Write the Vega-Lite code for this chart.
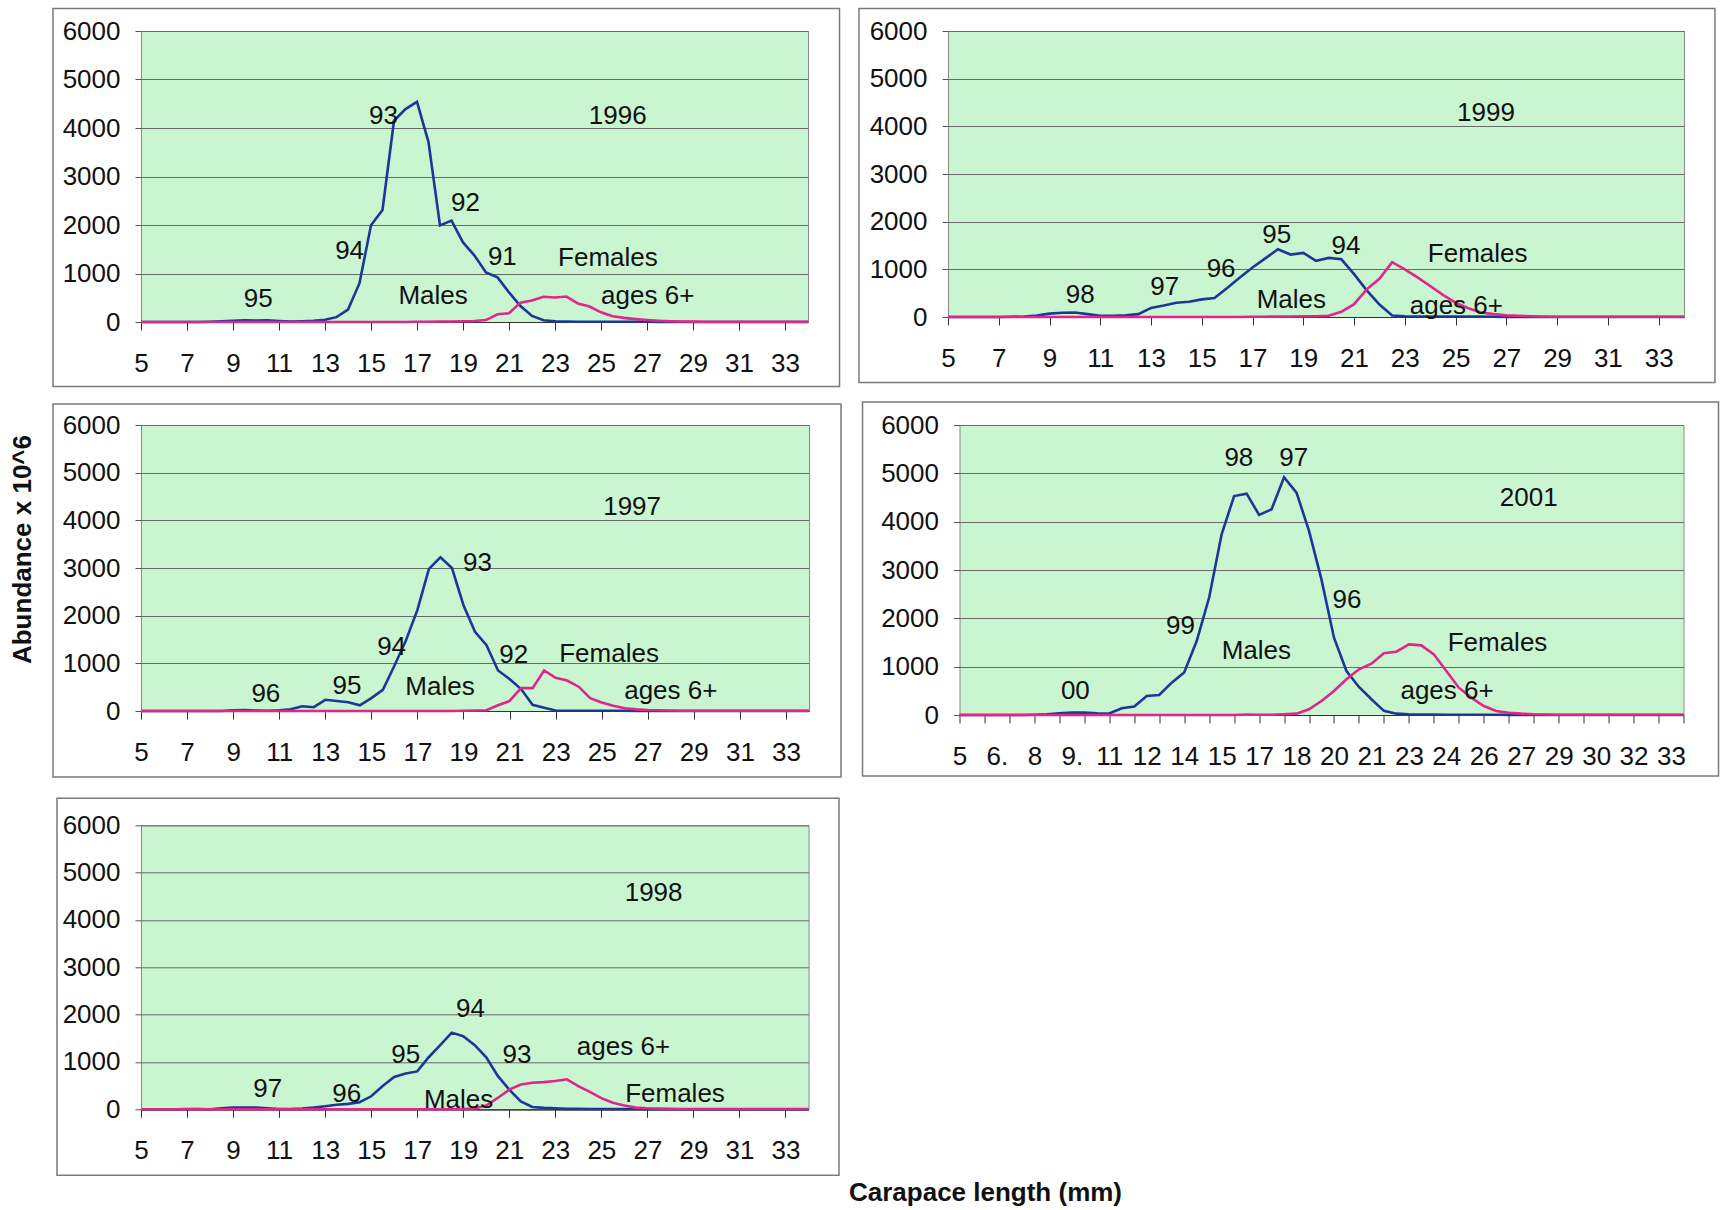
{
"$schema": "https://vega.github.io/schema/vega-lite/v6.json",
"background": "white",
"padding": {"left": 9, "top": 7, "right": 0, "bottom": 0},
"title": {"text": "Abundance x 10^6", "orient": "left", "anchor": "middle", "font": "Liberation Sans", "fontSize": 26, "fontWeight": "bold", "color": "#111", "offset": 16, "dx": 57},
"datasets": {
"y1996": [
{"len":5,"Males":0,"Females":0},{"len":5.5,"Males":0,"Females":0},{"len":6,"Males":0,"Females":0},{"len":6.5,"Males":0,"Females":0},{"len":7,"Males":0,"Females":0},{"len":7.5,"Males":0,"Females":0},{"len":8,"Males":5,"Females":0},{"len":8.5,"Males":15,"Females":0},{"len":9,"Males":25,"Females":0},{"len":9.5,"Males":35,"Females":0},{"len":10,"Males":30,"Females":0},{"len":10.5,"Males":35,"Females":0},{"len":11,"Males":20,"Females":0},{"len":11.5,"Males":10,"Females":0},{"len":12,"Males":15,"Females":0},{"len":12.5,"Males":25,"Females":0},{"len":13,"Males":45,"Females":0},{"len":13.5,"Males":100,"Females":0},{"len":14,"Males":255,"Females":0},{"len":14.5,"Males":800,"Females":0},{"len":15,"Males":1995,"Females":0},{"len":15.5,"Males":2310,"Females":0},{"len":16,"Males":4150,"Females":0},{"len":16.5,"Males":4390,"Females":0},{"len":17,"Males":4540,"Females":5},{"len":17.5,"Males":3710,"Females":5},{"len":18,"Males":1990,"Females":10},{"len":18.5,"Males":2090,"Females":10},{"len":19,"Males":1640,"Females":15},{"len":19.5,"Males":1370,"Females":20},{"len":20,"Males":1020,"Females":40},{"len":20.5,"Males":920,"Females":160},{"len":21,"Males":610,"Females":180},{"len":21.5,"Males":330,"Females":400},{"len":22,"Males":125,"Females":445},{"len":22.5,"Males":35,"Females":520},{"len":23,"Males":12,"Females":505},{"len":23.5,"Males":8,"Females":525},{"len":24,"Males":5,"Females":380},{"len":24.5,"Males":5,"Females":320},{"len":25,"Males":5,"Females":200},{"len":25.5,"Males":5,"Females":120},{"len":26,"Males":5,"Females":85},{"len":26.5,"Males":5,"Females":60},{"len":27,"Males":5,"Females":40},{"len":27.5,"Males":3,"Females":25},{"len":28,"Males":2,"Females":15},{"len":28.5,"Males":0,"Females":10},{"len":29,"Males":0,"Females":8},{"len":29.5,"Males":0,"Females":5},{"len":30,"Males":0,"Females":5},{"len":30.5,"Males":0,"Females":5},{"len":31,"Males":0,"Females":5},{"len":31.5,"Males":0,"Females":5},{"len":32,"Males":0,"Females":5},{"len":32.5,"Males":0,"Females":5},{"len":33,"Males":0,"Females":5},{"len":33.5,"Males":0,"Females":5},{"len":34,"Males":0,"Females":5}
],
"y1999": [
{"len":5,"Males":0,"Females":0},{"len":5.5,"Males":0,"Females":0},{"len":6,"Males":0,"Females":0},{"len":6.5,"Males":0,"Females":0},{"len":7,"Males":0,"Females":0},{"len":7.5,"Males":5,"Females":0},{"len":8,"Males":10,"Females":0},{"len":8.5,"Males":30,"Females":0},{"len":9,"Males":70,"Females":0},{"len":9.5,"Males":90,"Females":0},{"len":10,"Males":95,"Females":0},{"len":10.5,"Males":60,"Females":0},{"len":11,"Males":25,"Females":0},{"len":11.5,"Males":25,"Females":0},{"len":12,"Males":35,"Females":0},{"len":12.5,"Males":60,"Females":0},{"len":13,"Males":190,"Females":0},{"len":13.5,"Males":240,"Females":0},{"len":14,"Males":300,"Females":0},{"len":14.5,"Males":320,"Females":0},{"len":15,"Males":370,"Females":0},{"len":15.5,"Males":400,"Females":0},{"len":16,"Males":610,"Females":0},{"len":16.5,"Males":830,"Females":0},{"len":17,"Males":1040,"Females":5},{"len":17.5,"Males":1230,"Females":5},{"len":18,"Males":1420,"Females":10},{"len":18.5,"Males":1310,"Females":10},{"len":19,"Males":1345,"Females":15},{"len":19.5,"Males":1180,"Females":15},{"len":20,"Males":1240,"Females":25},{"len":20.5,"Males":1210,"Females":110},{"len":21,"Males":900,"Females":270},{"len":21.5,"Males":560,"Females":580},{"len":22,"Males":260,"Females":800},{"len":22.5,"Males":30,"Females":1150},{"len":23,"Males":15,"Females":1000},{"len":23.5,"Males":10,"Females":830},{"len":24,"Males":10,"Females":650},{"len":24.5,"Males":10,"Females":465},{"len":25,"Males":10,"Females":300},{"len":25.5,"Males":10,"Females":185},{"len":26,"Males":8,"Females":95},{"len":26.5,"Males":5,"Females":60},{"len":27,"Males":3,"Females":35},{"len":27.5,"Males":0,"Females":25},{"len":28,"Males":0,"Females":15},{"len":28.5,"Males":0,"Females":10},{"len":29,"Males":0,"Females":5},{"len":29.5,"Males":0,"Females":5},{"len":30,"Males":0,"Females":5},{"len":30.5,"Males":0,"Females":5},{"len":31,"Males":0,"Females":5},{"len":31.5,"Males":0,"Females":5},{"len":32,"Males":0,"Females":5},{"len":32.5,"Males":0,"Females":5},{"len":33,"Males":0,"Females":5},{"len":33.5,"Males":0,"Females":5},{"len":34,"Males":0,"Females":5}
],
"y1997": [
{"len":5,"Males":0,"Females":0},{"len":5.5,"Males":0,"Females":0},{"len":6,"Males":0,"Females":0},{"len":6.5,"Males":0,"Females":0},{"len":7,"Males":0,"Females":0},{"len":7.5,"Males":0,"Females":0},{"len":8,"Males":0,"Females":0},{"len":8.5,"Males":0,"Females":0},{"len":9,"Males":15,"Females":0},{"len":9.5,"Males":20,"Females":0},{"len":10,"Males":10,"Females":0},{"len":10.5,"Males":5,"Females":0},{"len":11,"Males":15,"Females":0},{"len":11.5,"Males":35,"Females":0},{"len":12,"Males":100,"Females":0},{"len":12.5,"Males":80,"Females":0},{"len":13,"Males":235,"Females":0},{"len":13.5,"Males":210,"Females":0},{"len":14,"Males":185,"Females":0},{"len":14.5,"Males":120,"Females":0},{"len":15,"Males":270,"Females":0},{"len":15.5,"Males":445,"Females":0},{"len":16,"Males":950,"Females":0},{"len":16.5,"Males":1480,"Females":0},{"len":17,"Males":2120,"Females":0},{"len":17.5,"Males":2980,"Females":0},{"len":18,"Males":3225,"Females":0},{"len":18.5,"Males":3000,"Females":0},{"len":19,"Males":2220,"Females":5},{"len":19.5,"Males":1660,"Females":10},{"len":20,"Males":1380,"Females":15},{"len":20.5,"Males":850,"Females":120},{"len":21,"Males":670,"Females":210},{"len":21.5,"Males":460,"Females":480},{"len":22,"Males":130,"Females":480},{"len":22.5,"Males":70,"Females":850},{"len":23,"Males":10,"Females":695},{"len":23.5,"Males":5,"Females":640},{"len":24,"Males":5,"Females":510},{"len":24.5,"Males":5,"Females":270},{"len":25,"Males":5,"Females":180},{"len":25.5,"Males":5,"Females":110},{"len":26,"Males":5,"Females":56},{"len":26.5,"Males":3,"Females":35},{"len":27,"Males":0,"Females":21},{"len":27.5,"Males":0,"Females":15},{"len":28,"Males":0,"Females":10},{"len":28.5,"Males":0,"Females":5},{"len":29,"Males":0,"Females":5},{"len":29.5,"Males":0,"Females":5},{"len":30,"Males":0,"Females":5},{"len":30.5,"Males":0,"Females":5},{"len":31,"Males":0,"Females":5},{"len":31.5,"Males":0,"Females":5},{"len":32,"Males":0,"Females":5},{"len":32.5,"Males":0,"Females":5},{"len":33,"Males":0,"Females":5},{"len":33.5,"Males":0,"Females":5},{"len":34,"Males":0,"Females":5}
],
"y2001": [
{"len":5,"Males":0,"Females":0},{"len":5.5,"Males":0,"Females":0},{"len":6,"Males":0,"Females":0},{"len":6.5,"Males":0,"Females":0},{"len":7,"Males":0,"Females":0},{"len":7.5,"Males":0,"Females":0},{"len":8,"Males":5,"Females":0},{"len":8.5,"Males":15,"Females":0},{"len":9,"Males":35,"Females":0},{"len":9.5,"Males":50,"Females":0},{"len":10,"Males":50,"Females":0},{"len":10.5,"Males":35,"Females":0},{"len":11,"Males":30,"Females":0},{"len":11.5,"Males":140,"Females":0},{"len":12,"Males":175,"Females":0},{"len":12.5,"Males":395,"Females":0},{"len":13,"Males":415,"Females":0},{"len":13.5,"Males":670,"Females":0},{"len":14,"Males":880,"Females":0},{"len":14.5,"Males":1530,"Females":0},{"len":15,"Males":2430,"Females":0},{"len":15.5,"Males":3740,"Females":0},{"len":16,"Males":4530,"Females":0},{"len":16.5,"Males":4580,"Females":10},{"len":17,"Males":4140,"Females":5},{"len":17.5,"Males":4255,"Females":5},{"len":18,"Males":4920,"Females":15},{"len":18.5,"Males":4600,"Females":28},{"len":19,"Males":3810,"Females":117},{"len":19.5,"Males":2800,"Females":290},{"len":20,"Males":1600,"Females":497},{"len":20.5,"Males":910,"Females":738},{"len":21,"Males":580,"Females":945},{"len":21.5,"Males":325,"Females":1062},{"len":22,"Males":85,"Females":1276},{"len":22.5,"Males":28,"Females":1310},{"len":23,"Males":14,"Females":1462},{"len":23.5,"Males":10,"Females":1441},{"len":24,"Males":8,"Females":1255},{"len":24.5,"Males":5,"Females":910},{"len":25,"Males":5,"Females":565},{"len":25.5,"Males":5,"Females":360},{"len":26,"Males":5,"Females":186},{"len":26.5,"Males":5,"Females":83},{"len":27,"Males":3,"Females":48},{"len":27.5,"Males":0,"Females":28},{"len":28,"Males":0,"Females":15},{"len":28.5,"Males":0,"Females":10},{"len":29,"Males":0,"Females":5},{"len":29.5,"Males":0,"Females":5},{"len":30,"Males":0,"Females":5},{"len":30.5,"Males":0,"Females":5},{"len":31,"Males":0,"Females":5},{"len":31.5,"Males":0,"Females":5},{"len":32,"Males":0,"Females":5},{"len":32.5,"Males":0,"Females":5},{"len":33,"Males":0,"Females":5},{"len":33.5,"Males":0,"Females":5},{"len":34,"Males":0,"Females":5}
],
"y1998": [
{"len":5,"Males":0,"Females":0},{"len":5.5,"Males":0,"Females":0},{"len":6,"Males":0,"Females":0},{"len":6.5,"Males":0,"Females":0},{"len":7,"Males":7,"Females":0},{"len":7.5,"Males":5,"Females":0},{"len":8,"Males":0,"Females":0},{"len":8.5,"Males":20,"Females":0},{"len":9,"Males":35,"Females":0},{"len":9.5,"Males":35,"Females":0},{"len":10,"Males":35,"Females":0},{"len":10.5,"Males":20,"Females":0},{"len":11,"Males":7,"Females":0},{"len":11.5,"Males":5,"Females":0},{"len":12,"Males":15,"Females":0},{"len":12.5,"Males":35,"Females":0},{"len":13,"Males":65,"Females":0},{"len":13.5,"Males":95,"Females":0},{"len":14,"Males":115,"Females":0},{"len":14.5,"Males":150,"Females":0},{"len":15,"Males":275,"Females":0},{"len":15.5,"Males":490,"Females":0},{"len":16,"Males":685,"Females":0},{"len":16.5,"Males":755,"Females":0},{"len":17,"Males":800,"Females":0},{"len":17.5,"Males":1100,"Females":0},{"len":18,"Males":1355,"Females":0},{"len":18.5,"Males":1620,"Females":0},{"len":19,"Males":1545,"Females":5},{"len":19.5,"Males":1355,"Females":20},{"len":20,"Males":1100,"Females":80},{"len":20.5,"Males":705,"Females":240},{"len":21,"Males":415,"Females":415},{"len":21.5,"Males":165,"Females":525},{"len":22,"Males":50,"Females":560},{"len":22.5,"Males":30,"Females":575},{"len":23,"Males":20,"Females":597},{"len":23.5,"Males":10,"Females":633},{"len":24,"Males":8,"Females":490},{"len":24.5,"Males":5,"Females":367},{"len":25,"Males":5,"Females":237},{"len":25.5,"Males":5,"Females":137},{"len":26,"Males":5,"Females":79},{"len":26.5,"Males":5,"Females":36},{"len":27,"Males":3,"Females":22},{"len":27.5,"Males":0,"Females":15},{"len":28,"Males":0,"Females":10},{"len":28.5,"Males":0,"Females":5},{"len":29,"Males":0,"Females":5},{"len":29.5,"Males":0,"Females":5},{"len":30,"Males":0,"Females":5},{"len":30.5,"Males":0,"Females":5},{"len":31,"Males":0,"Females":5},{"len":31.5,"Males":0,"Females":5},{"len":32,"Males":0,"Females":5},{"len":32.5,"Males":0,"Females":5},{"len":33,"Males":0,"Females":5},{"len":33.5,"Males":0,"Females":5},{"len":34,"Males":0,"Females":5}
],
"t1996": [{"t":"93","x":15.54,"y":4250},{"t":"1996","x":25.73,"y":4250},{"t":"92","x":19.11,"y":2450},{"t":"94","x":14.07,"y":1470},{"t":"91","x":20.71,"y":1330},{"t":"Females","x":25.3,"y":1310},{"t":"Males","x":17.7,"y":540},{"t":"ages 6+","x":27.03,"y":540},{"t":"95","x":10.1,"y":466}],
"t1999": [{"t":"95","x":17.95,"y":1711},{"t":"94","x":20.68,"y":1500},{"t":"Females","x":25.87,"y":1324},{"t":"96","x":15.76,"y":1007},{"t":"97","x":13.54,"y":620},{"t":"98","x":10.21,"y":465},{"t":"Males","x":18.53,"y":352},{"t":"ages 6+","x":25.03,"y":232},{"t":"1999","x":26.2,"y":4280}],
"t1997": [{"t":"93","x":19.61,"y":3105},{"t":"94","x":15.88,"y":1341},{"t":"92","x":21.18,"y":1179},{"t":"Females","x":25.32,"y":1200},{"t":"96","x":10.42,"y":353},{"t":"95","x":13.94,"y":529},{"t":"Males","x":17.98,"y":494},{"t":"ages 6+","x":28.0,"y":430},{"t":"1997","x":26.32,"y":4274}],
"t2001": [{"t":"98","x":16.19,"y":5327},{"t":"97","x":18.39,"y":5327},{"t":"2001","x":27.8,"y":4480},{"t":"96","x":20.52,"y":2372},{"t":"99","x":13.85,"y":1841},{"t":"Males","x":16.89,"y":1324},{"t":"Females","x":26.55,"y":1480},{"t":"00","x":9.64,"y":497},{"t":"ages 6+","x":24.53,"y":497}],
"t1998": [{"t":"94","x":19.31,"y":2110},{"t":"1998","x":27.27,"y":4566},{"t":"95","x":16.5,"y":1137},{"t":"93","x":21.33,"y":1137},{"t":"ages 6+","x":25.96,"y":1317},{"t":"97","x":10.51,"y":439},{"t":"96","x":13.94,"y":324},{"t":"Males","x":18.8,"y":201},{"t":"Females","x":28.2,"y":320}]
},
"spacing": 12,
"vconcat": [
{"hconcat": [
 {"width": 667, "height": 291, "layer": [
  {"data": {"values": [{}]}, "mark": {"type": "rect", "fill": "transparent", "stroke": "#7a7a7a", "strokeWidth": 1.5, "clip": false},
   "encoding": {"x": {"datum": 1.174, "type": "quantitative", "scale": {"domain": [5, 34], "nice": false, "zero": false}, "axis": {"title": null}}, "x2": {"datum": 35.37},
     "y": {"datum": 6464, "type": "quantitative", "scale": {"domain": [0, 6000], "nice": false, "zero": false}, "axis": {"title": null}}, "y2": {"datum": -1330}}},
  {"data": {"name": "y1996"}, "transform": [{"fold": ["Males", "Females"], "as": ["sex", "abund"]}],
   "mark": {"type": "line", "strokeWidth": 2.6},
   "encoding": {"x": {"field": "len", "type": "quantitative", "scale": {"domain": [5, 34], "nice": false, "zero": false}, "axis": {"title": null, "labelOverlap": false, "values": [5,6,7,8,9,10,11,12,13,14,15,16,17,18,19,20,21,22,23,24,25,26,27,28,29,30,31,32,33,34], "labelExpr": "datum.value % 2 === 1 ? datum.label : ''"}},
     "y": {"field": "abund", "type": "quantitative", "scale": {"domain": [0, 6000], "nice": false, "zero": false}, "axis": {"title": null, "format": "d", "values": [0,1000,2000,3000,4000,5000,6000]}},
     "color": {"field": "sex", "type": "nominal", "scale": {"domain": ["Males", "Females"], "range": ["#1c3896", "#e0268a"]}, "legend": null}}},
  {"data": {"name": "t1996"}, "mark": {"type": "text"},
   "encoding": {"x": {"field": "x", "type": "quantitative", "axis": {"title": null}}, "y": {"field": "y", "type": "quantitative", "axis": {"title": null}}, "text": {"field": "t"}}}
 ]},
 {"width": 736, "height": 286, "layer": [
  {"data": {"values": [{}]}, "mark": {"type": "rect", "fill": "transparent", "stroke": "#7a7a7a", "strokeWidth": 1.5, "clip": false},
   "encoding": {"x": {"datum": 1.493, "type": "quantitative", "scale": {"domain": [5, 34], "nice": false, "zero": false}, "axis": {"title": null}}, "x2": {"datum": 35.221},
     "y": {"datum": 6472, "type": "quantitative", "scale": {"domain": [0, 6000], "nice": false, "zero": false}, "axis": {"title": null}}, "y2": {"datum": -1374}}},
  {"data": {"name": "y1999"}, "transform": [{"fold": ["Males", "Females"], "as": ["sex", "abund"]}],
   "mark": {"type": "line", "strokeWidth": 2.6},
   "encoding": {"x": {"field": "len", "type": "quantitative", "scale": {"domain": [5, 34], "nice": false, "zero": false}, "axis": {"title": null, "labelOverlap": false, "values": [5,6,7,8,9,10,11,12,13,14,15,16,17,18,19,20,21,22,23,24,25,26,27,28,29,30,31,32,33,34], "labelExpr": "datum.value % 2 === 1 ? datum.label : ''"}},
     "y": {"field": "abund", "type": "quantitative", "scale": {"domain": [0, 6000], "nice": false, "zero": false}, "axis": {"title": null, "format": "d", "values": [0,1000,2000,3000,4000,5000,6000]}},
     "color": {"field": "sex", "type": "nominal", "scale": {"domain": ["Males", "Females"], "range": ["#1c3896", "#e0268a"]}, "legend": null}}},
  {"data": {"name": "t1999"}, "mark": {"type": "text"},
   "encoding": {"x": {"field": "x", "type": "quantitative", "axis": {"title": null}}, "y": {"field": "y", "type": "quantitative", "axis": {"title": null}}, "text": {"field": "t"}}}
 ]}
], "spacing": 16},
{"spacing": 17.3, "vconcat": [
{"hconcat": [
 {"width": 668, "height": 286, "layer": [
  {"data": {"values": [{}]}, "mark": {"type": "rect", "fill": "transparent", "stroke": "#7a7a7a", "strokeWidth": 1.5, "clip": false},
   "encoding": {"x": {"datum": 1.18, "type": "quantitative", "scale": {"domain": [5, 34], "nice": false, "zero": false}, "axis": {"title": null}}, "x2": {"datum": 35.389},
     "y": {"datum": 6441, "type": "quantitative", "scale": {"domain": [0, 6000], "nice": false, "zero": false}, "axis": {"title": null}}, "y2": {"datum": -1385}}},
  {"data": {"name": "y1997"}, "transform": [{"fold": ["Males", "Females"], "as": ["sex", "abund"]}],
   "mark": {"type": "line", "strokeWidth": 2.6},
   "encoding": {"x": {"field": "len", "type": "quantitative", "scale": {"domain": [5, 34], "nice": false, "zero": false}, "axis": {"title": null, "labelOverlap": false, "values": [5,6,7,8,9,10,11,12,13,14,15,16,17,18,19,20,21,22,23,24,25,26,27,28,29,30,31,32,33,34], "labelExpr": "datum.value % 2 === 1 ? datum.label : ''"}},
     "y": {"field": "abund", "type": "quantitative", "scale": {"domain": [0, 6000], "nice": false, "zero": false}, "axis": {"title": null, "format": "d", "values": [0,1000,2000,3000,4000,5000,6000]}},
     "color": {"field": "sex", "type": "nominal", "scale": {"domain": ["Males", "Females"], "range": ["#1c3896", "#e0268a"]}, "legend": null}}},
  {"data": {"name": "t1997"}, "mark": {"type": "text"},
   "encoding": {"x": {"field": "x", "type": "quantitative", "axis": {"title": null}}, "y": {"field": "y", "type": "quantitative", "axis": {"title": null}}, "text": {"field": "t"}}}
 ]},
 {"width": 724, "height": 290, "resolve": {"axis": {"x": "independent"}}, "layer": [
  {"data": {"values": [{}]}, "mark": {"type": "rect", "fill": "transparent", "stroke": "#7a7a7a", "strokeWidth": 1.5, "clip": false},
   "encoding": {"x": {"datum": 1.115, "type": "quantitative", "scale": {"domain": [5, 34], "nice": false, "zero": false}, "axis": null}, "x2": {"datum": 35.402},
     "y": {"datum": 6476, "type": "quantitative", "scale": {"domain": [0, 6000], "nice": false, "zero": false}, "axis": {"title": null}}, "y2": {"datum": -1262}}},
  {"data": {"name": "y2001"}, "transform": [{"fold": ["Males", "Females"], "as": ["sex", "abund"]}],
   "mark": {"type": "line", "strokeWidth": 2.6},
   "encoding": {"x": {"field": "len", "type": "quantitative", "scale": {"domain": [5, 34], "nice": false, "zero": false}, "axis": {"title": null, "orient": "bottom", "labels": false, "values": [5,6,7,8,9,10,11,12,13,14,15,16,17,18,19,20,21,22,23,24,25,26,27,28,29,30,31,32,33,34]}},
     "y": {"field": "abund", "type": "quantitative", "scale": {"domain": [0, 6000], "nice": false, "zero": false}, "axis": {"title": null, "format": "d", "values": [0,1000,2000,3000,4000,5000,6000]}},
     "color": {"field": "sex", "type": "nominal", "scale": {"domain": ["Males", "Females"], "range": ["#1c3896", "#e0268a"]}, "legend": null}}},
  {"data": {"name": "t2001"}, "mark": {"type": "text"},
   "encoding": {"x": {"field": "x", "type": "quantitative", "scale": {"domain": [5, 34], "nice": false, "zero": false}, "axis": {"title": null, "orient": "bottom", "ticks": false, "domain": false, "labelOverlap": false, "labelPadding": 28, "values": [5,6.5,8,9.5,11,12.5,14,15.5,17,18.5,20,21.5,23,24.5,26,27.5,29,30.5,32,33.5], "labelExpr": "substring(toString(datum.value), 0, 2)"}},
     "y": {"field": "y", "type": "quantitative", "axis": {"title": null}}, "text": {"field": "t"}}}
 ]}
], "spacing": 17.5},
{"width": 667.5, "height": 284, "layer": [
  {"data": {"values": [{}]}, "mark": {"type": "rect", "fill": "transparent", "stroke": "#7a7a7a", "strokeWidth": 1.5, "clip": false},
   "encoding": {"x": {"datum": 1.35, "type": "quantitative", "scale": {"domain": [5, 34], "nice": false, "zero": false}, "axis": {"title": "Carapace length (mm)"}}, "x2": {"datum": 35.325},
     "y": {"datum": 6570, "type": "quantitative", "scale": {"domain": [0, 6000], "nice": false, "zero": false}, "axis": {"title": null}}, "y2": {"datum": -1394}}},
  {"data": {"name": "y1998"}, "transform": [{"fold": ["Males", "Females"], "as": ["sex", "abund"]}],
   "mark": {"type": "line", "strokeWidth": 2.6},
   "encoding": {"x": {"field": "len", "type": "quantitative", "scale": {"domain": [5, 34], "nice": false, "zero": false}, "axis": {"title": "Carapace length (mm)", "titleX": 844, "titleY": 83, "titleBaseline": "middle", "titleAlign": "center", "titleFontSize": 26, "titleFontWeight": "bold", "titleColor": "#111", "labelOverlap": false, "values": [5,6,7,8,9,10,11,12,13,14,15,16,17,18,19,20,21,22,23,24,25,26,27,28,29,30,31,32,33,34], "labelExpr": "datum.value % 2 === 1 ? datum.label : ''"}},
     "y": {"field": "abund", "type": "quantitative", "scale": {"domain": [0, 6000], "nice": false, "zero": false}, "axis": {"title": null, "format": "d", "values": [0,1000,2000,3000,4000,5000,6000]}},
     "color": {"field": "sex", "type": "nominal", "scale": {"domain": ["Males", "Females"], "range": ["#1c3896", "#e0268a"]}, "legend": null}}},
  {"data": {"name": "t1998"}, "mark": {"type": "text"},
   "encoding": {"x": {"field": "x", "type": "quantitative", "axis": {"title": "Carapace length (mm)"}}, "y": {"field": "y", "type": "quantitative", "axis": {"title": null}}, "text": {"field": "t"}}}
]}
]}
],
"config": {
 "view": {"fill": "#c9f5d1", "stroke": "#8a8a8a", "strokeWidth": 1},
 "axis": {"labelFont": "Liberation Sans", "labelFontSize": 26, "labelColor": "#111", "titleFont": "Liberation Sans"},
 "axisX": {"grid": false, "tickSize": 8, "tickColor": "#333", "tickWidth": 1, "domainColor": "#333", "domainWidth": 1.2, "labelPadding": 20, "labelFlush": false, "labelOverlap": false},
 "axisY": {"grid": true, "gridColor": "#6a6a6a", "gridWidth": 1, "domain": false, "tickSize": 6, "tickColor": "#555", "labelPadding": 15, "labelFlush": false, "labelOverlap": false},
 "text": {"font": "Liberation Sans", "fontSize": 26, "color": "#111", "align": "center", "baseline": "middle"}
}
}
